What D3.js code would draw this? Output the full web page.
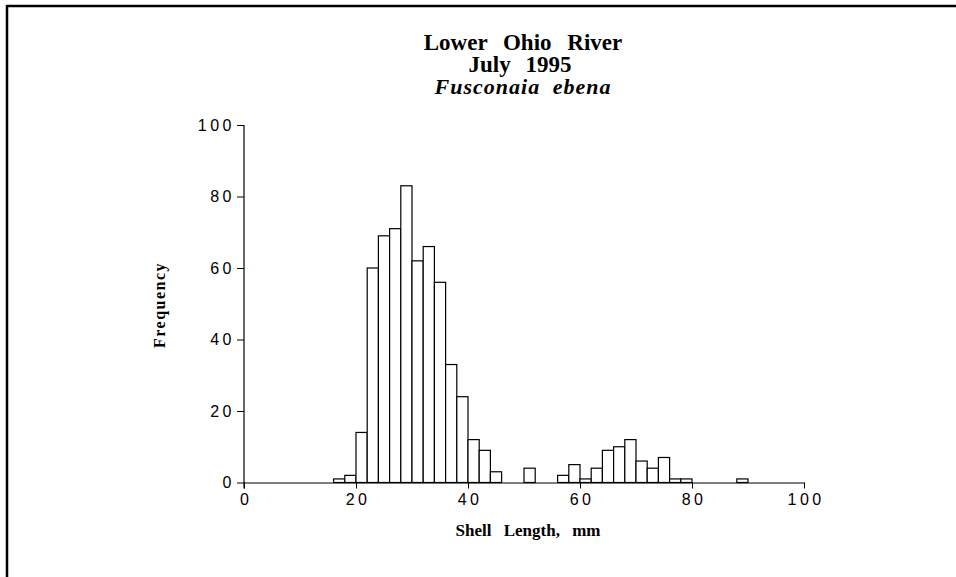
<!DOCTYPE html>
<html>
<head>
<meta charset="utf-8">
<script src="https://cdn.jsdelivr.net/npm/d3@7"></script>
<style>
  html, body { margin: 0; padding: 0; background: #fff; }
  svg { display: block; }
</style>
</head>
<body>
<svg id="chart" width="956" height="577"></svg>
<script>
// Histogram bins (2 mm wide), lower edges in mm
const binStarts = [16, 18, 20, 22, 24, 26, 28, 30, 32, 34, 36, 38, 40, 42, 44, 46, 48, 50, 52, 54, 56, 58, 60, 62, 64, 66, 68, 70, 72, 74, 76, 78, 80, 82, 84, 86, 88];
const frequencies = [1, 2, 14, 60, 69, 71, 83, 62, 66, 56, 33, 24, 12, 9, 3, 0, 0, 4, 0, 0, 2, 5, 1, 4, 9, 10, 12, 6, 4, 7, 1, 1, 0, 0, 0, 0, 1];
const binWidth = 2;
const xTicks = [0, 20, 40, 60, 80, 100];
const yTicks = [0, 20, 40, 60, 80, 100];
const titleLines = ["Lower Ohio River", "July 1995"];
const speciesName = "Fusconaia ebena";
const xLabel = "Shell Length, mm";
const yLabel = "Frequency";

const svg = d3.select("#chart");
const x = d3.scaleLinear().domain([0, 100]).range([244, 804]);
const y = d3.scaleLinear().domain([0, 100]).range([482.5, 125]);

// Frame lines (top and left)
svg.append("line").attr("x1", 6.5).attr("x2", 956).attr("y1", 6).attr("y2", 6)
  .attr("stroke", "#000").attr("stroke-width", 2.5);
svg.append("line").attr("x1", 7).attr("x2", 7).attr("y1", 5).attr("y2", 577)
  .attr("stroke", "#000").attr("stroke-width", 2.5);

// Titles
const serif = "'Liberation Serif', 'Times New Roman', serif";
svg.append("text").attr("x", 523).attr("y", 50).attr("text-anchor", "middle")
  .attr("font-family", serif).attr("font-weight", "bold").attr("font-size", 23)
  .attr("word-spacing", 10).text(titleLines[0]);
svg.append("text").attr("x", 520).attr("y", 72).attr("text-anchor", "middle")
  .attr("font-family", serif).attr("font-weight", "bold").attr("font-size", 23)
  .attr("word-spacing", 9).text(titleLines[1]);
svg.append("text").attr("x", 523).attr("y", 94).attr("text-anchor", "middle")
  .attr("font-family", serif).attr("font-weight", "bold").attr("font-style", "italic")
  .attr("font-size", 22).attr("letter-spacing", 1).attr("word-spacing", 6).text(speciesName);

// Bars
svg.append("g").selectAll("rect")
  .data(binStarts.map((s, i) => ({ s, f: frequencies[i] })).filter(d => d.f > 0))
  .join("rect")
  .attr("x", d => x(d.s))
  .attr("y", d => y(d.f))
  .attr("width", d => x(d.s + binWidth) - x(d.s))
  .attr("height", d => y(0) - y(d.f))
  .attr("fill", "#fff")
  .attr("stroke", "#000")
  .attr("stroke-width", 1.2);

// Axes
const sans = "'Liberation Sans', Arial, sans-serif";
const xAxis = svg.append("g").attr("transform", `translate(0,${y(0)})`)
  .call(d3.axisBottom(x).tickValues(xTicks).tickSize(6).tickPadding(5).tickSizeOuter(0));
const yAxis = svg.append("g").attr("transform", `translate(${x(0)},0)`)
  .call(d3.axisLeft(y).tickValues(yTicks).tickSize(7).tickPadding(2).tickSizeOuter(0));
[xAxis, yAxis].forEach(g => {
  g.select(".domain").attr("stroke", "#000").attr("stroke-width", 1.2);
  g.selectAll(".tick line").attr("stroke", "#000").attr("stroke-width", 1);
  g.selectAll(".tick text").attr("font-family", sans).attr("font-size", 16)
    .attr("letter-spacing", 3.5).attr("fill", "#000");
});
xAxis.selectAll(".tick text").attr("dx", "0.1em");
yAxis.select(".domain").attr("d", `M0,${y(100)}V${y(0) + 6}`);

// Axis labels
svg.append("text").attr("x", 528).attr("y", 536).attr("text-anchor", "middle")
  .attr("font-family", serif).attr("font-weight", "bold").attr("font-size", 17)
  .attr("word-spacing", 8).text(xLabel);
svg.append("text").attr("transform", "translate(165,305) rotate(-90)")
  .attr("text-anchor", "middle")
  .attr("font-family", serif).attr("font-weight", "bold").attr("font-size", 16)
  .attr("letter-spacing", 1.5).text(yLabel);
</script>
</body>
</html>
